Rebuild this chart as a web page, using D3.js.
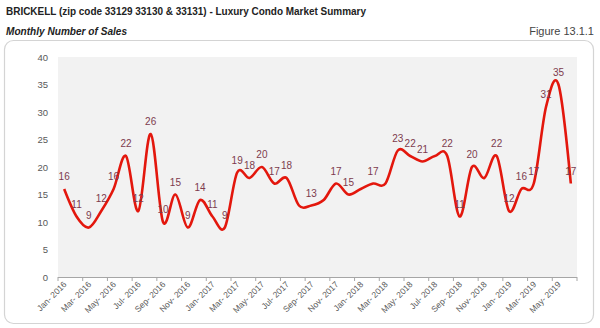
<!DOCTYPE html>
<html><head><meta charset="utf-8">
<script src="https://cdn.jsdelivr.net/npm/d3@7"></script>
<style>
html,body{margin:0;padding:0;background:#fff;}
svg{display:block;font-family:"Liberation Sans",Arial,sans-serif;}
</style></head><body>
<svg id="c" width="600" height="328"></svg>
<script>
const categories = ["Jan- 2016","Feb- 2016","Mar- 2016","Apr- 2016","May- 2016","Jun- 2016","Jul- 2016","Aug- 2016","Sep- 2016","Oct- 2016","Nov- 2016","Dec- 2016",
"Jan- 2017","Feb- 2017","Mar- 2017","Apr- 2017","May- 2017","Jun- 2017","Jul- 2017","Aug- 2017","Sep- 2017","Oct- 2017","Nov- 2017","Dec- 2017",
"Jan- 2018","Feb- 2018","Mar- 2018","Apr- 2018","May- 2018","Jun- 2018","Jul- 2018","Aug- 2018","Sep- 2018","Oct- 2018","Nov- 2018","Dec- 2018",
"Jan- 2019","Feb- 2019","Mar- 2019","Apr- 2019","May- 2019","Jun- 2019"];
const sales = [16,11,9,12,16,22,12,26,10,15,9,14,11,9,19,18,20,17,18,13,13,14,17,15,16,17,17,23,22,21,22,22,11,20,18,22,12,16,17,31,35,17];
const labelShown = [1,1,1,1,1,1,1,1,1,1,1,1,1,1,1,1,1,1,1,0,1,0,1,1,0,1,0,1,1,1,0,1,1,1,0,1,1,1,1,1,1,1];
const yTicks = [0,5,10,15,20,25,30,35,40];
const titleText = "BRICKELL (zip code 33129 33130 & 33131) - Luxury Condo Market Summary";
const subtitleText = "Monthly Number of Sales";
const figureText = "Figure 13.1.1";

(function(){
const svg = d3.select("#c");
// header
svg.append("text").attr("x",6).attr("y",15).attr("font-size",11).attr("font-weight","bold").attr("fill","#222")
  .attr("textLength",360).attr("lengthAdjust","spacingAndGlyphs").text(titleText);
svg.append("text").attr("x",6).attr("y",35).attr("font-size",10.5).attr("font-weight","bold").attr("font-style","italic").attr("fill","#222")
  .attr("textLength",121).attr("lengthAdjust","spacingAndGlyphs").text(subtitleText);
svg.append("text").attr("x",594).attr("y",35).attr("font-size",11).attr("text-anchor","end").attr("fill","#444").text(figureText);
// frame
svg.append("rect").attr("x",4.5).attr("y",40.5).attr("width",589).attr("height",283).attr("rx",9).attr("fill","#fff").attr("stroke","#d4d4d4").attr("stroke-width",1.2);

const pl=58, pr=577, pt=57, pb=277;
const x = d3.scaleBand().domain(categories).range([pl,pr]).padding(0);
const y = d3.scaleLinear().domain([0,40]).range([pb,pt]);
const cx = d => x(d) + x.bandwidth()/2;

svg.append("rect").attr("x",pl).attr("y",pt).attr("width",pr-pl).attr("height",pb-pt).attr("fill","#f2f2f2");

// y axis
const ya = svg.append("g").attr("transform",`translate(${pl},0)`)
  .call(d3.axisLeft(y).tickValues(yTicks).tickSize(0).tickPadding(10));
ya.select(".domain").remove();
ya.selectAll("text").attr("font-size",9.5).attr("fill","#595959").attr("font-family","Liberation Sans, Arial, sans-serif");

// x axis
const xa = svg.append("g").attr("transform",`translate(0,${pb})`)
  .call(d3.axisBottom(x).tickValues(categories.filter((d,i)=>i%2===0)).tickSize(0).tickPadding(0));
xa.select(".domain").attr("stroke","#a6a6a6").attr("d",`M${pl},0.5H${pr}`);
xa.selectAll(".tick text").attr("font-size",8.5).attr("fill","#595959")
  .attr("font-family","Liberation Sans, Arial, sans-serif")
  .attr("text-anchor","end").attr("dy",0).attr("y",0)
  .attr("transform","translate(3,8) rotate(-45)");
// boundary ticks every 2 categories
const tickIdx = d3.range(0, categories.length+1, 2);
svg.append("g").selectAll("line").data(tickIdx).join("line")
  .attr("x1",i=> i<categories.length ? x(categories[i]) : pr)
  .attr("x2",i=> i<categories.length ? x(categories[i]) : pr)
  .attr("y1",pb).attr("y2",pb+4).attr("stroke","#a6a6a6");

// line
const line = d3.line().x((d,i)=>cx(categories[i])).y(d=>y(d)).curve(d3.curveCardinal.tension(0));
svg.append("path").datum(sales).attr("d",line).attr("fill","none").attr("stroke","#e3170d").attr("stroke-width",2.6);

// labels
svg.append("g").selectAll("text").data(sales.map((v,i)=>({v,i})).filter(d=>labelShown[d.i]))
  .join("text").attr("x",d=>cx(categories[d.i])).attr("y",d=>y(d.v)-9)
  .attr("text-anchor","middle").attr("font-size",10).attr("fill","#7d3b4e").text(d=>d.v);
})();
</script>
</body></html>
